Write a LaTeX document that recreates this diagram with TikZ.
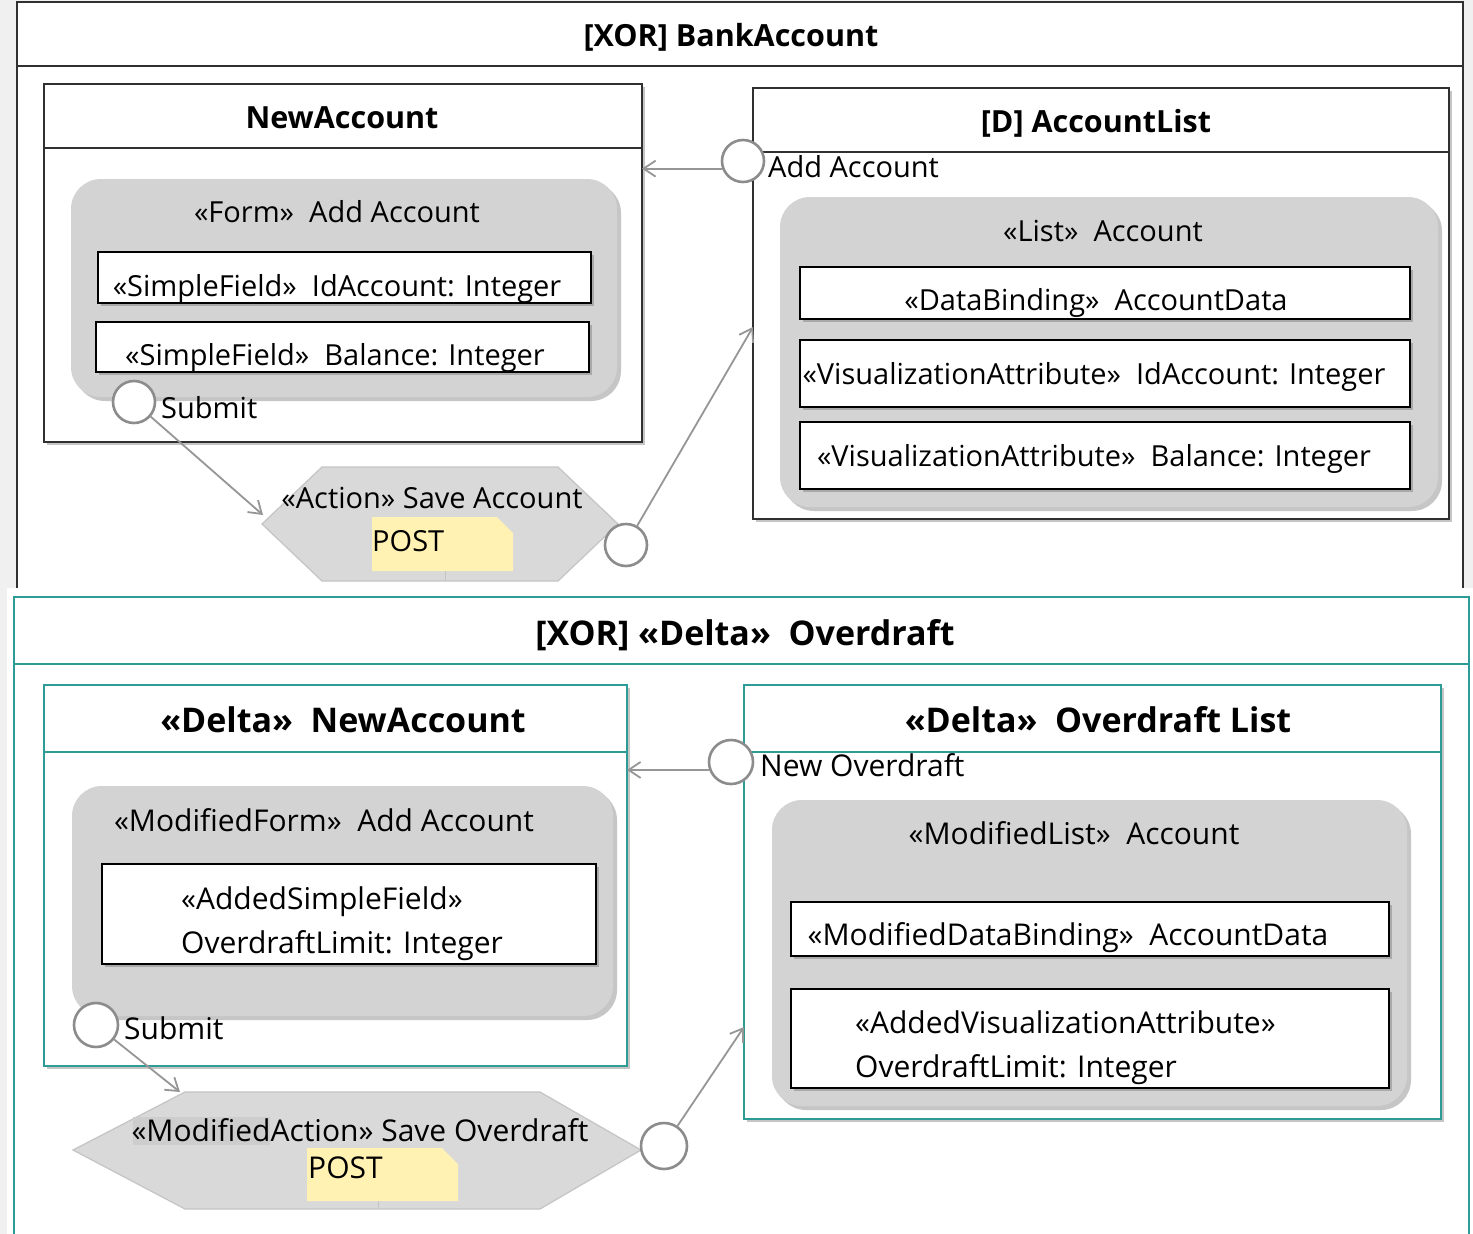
\documentclass[tikz,border=0pt]{standalone}
\usepackage{fontspec}
\setmainfont{Open Sans}
\usetikzlibrary{shadows,arrows.meta}
\definecolor{canvas}{HTML}{F0F0F0}
\definecolor{frame}{HTML}{303030}
\definecolor{deltateal}{RGB}{45,155,150}
\definecolor{pane}{HTML}{D3D3D3}
\definecolor{paneshade}{HTML}{C6C6C6}
\definecolor{portgray}{HTML}{8C8C8C}
\definecolor{flowgray}{HTML}{969696}
\definecolor{notefill}{HTML}{FFF2B3}
\definecolor{hexfill}{HTML}{D9D9D9}
\definecolor{hexline}{HTML}{C4C4C4}
\definecolor{stereomark}{HTML}{CDCDCD}
\tikzset{
  txt/.style={font=\fontsize{29}{34}\selectfont, inner sep=0pt, anchor=base},
  txtb/.style={txt, font=\fontsize{30}{35}\selectfont},
  ttl/.style={font=\fontsize{30.5}{36}\selectfont\bfseries, inner sep=0pt, anchor=base},
  ttlb/.style={ttl, font=\fontsize{34}{40}\selectfont\bfseries},
  area/.style={draw=frame, line width=1.6pt, fill=white, anchor=north west, inner sep=0pt, outer sep=0pt},
  deltaarea/.style={area, draw=deltateal, line width=1.8pt},
  shadowed/.style={drop shadow={shadow xshift=3pt, shadow yshift=-3pt, fill=black!45, opacity=0.5}},
  panebox/.style={fill=pane, rounded corners=30pt, anchor=north west, inner sep=0pt, outer sep=0pt,
    drop shadow={shadow xshift=4pt, shadow yshift=-4pt, fill=paneshade, opacity=1}},
  field/.style={draw=black, line width=1.6pt, fill=white, anchor=north west, inner sep=0pt, outer sep=0pt,
    drop shadow={shadow xshift=3pt, shadow yshift=-3pt, fill=black!50, opacity=0.5}},
  port/.style={circle, draw=portgray, line width=2.6pt, fill=white, inner sep=0pt, minimum size=42pt},
  flow/.style={draw=flowgray, line width=1.8pt, -{Straight Barb[length=12pt,width=16pt,line width=1.8pt]}},
  hexa/.style={fill=hexfill, draw=hexline, line width=1.2pt},
  postnote/.style={fill=notefill},
  notetail/.style={draw=hexline, line width=0.8pt},
}
\begin{document}
\begin{tikzpicture}[x=1pt,y=-1pt]
\useasboundingbox (0,0) rectangle (1473,1234);
\fill[canvas] (0,0) rectangle (1473,1234);

%% ---------------- [XOR] BankAccount ----------------
\node[area, minimum width=1446pt, minimum height=620pt] (bank) at (17,2) {};
\draw[frame, line width=1.6pt] (bank.west |- 0,66) -- (bank.east |- 0,66);
\node[ttl] (bankT) at (731,46) {[XOR] BankAccount};

% NewAccount container
\node[area, shadowed, minimum width=598pt, minimum height=358pt] (na) at (44,84) {};
\draw[frame, line width=1.6pt] (na.west |- 0,148) -- (na.east |- 0,148);
\node[ttl] (naT) at (342,128) {NewAccount};
\node[panebox, minimum width=546pt, minimum height=218pt] (form) at (71,179) {};
\node[txt] (formT) at (337,222) {«Form»\ \ Add Account};
\node[field, minimum width=493pt, minimum height=51pt] (sf1) at (98,252) {};
\node[txt] (sf1T) at (337,296) {«SimpleField»\ \ IdAccount: Integer};
\node[field, minimum width=493pt, minimum height=50pt] (sf2) at (96,322) {};
\node[txt] (sf2T) at (335,365) {«SimpleField»\ \ Balance: Integer};

% [D] AccountList container
\node[area, shadowed, minimum width=696pt, minimum height=431pt] (al) at (753,88) {};
\draw[frame, line width=1.6pt] (al.west |- 0,152) -- (al.east |- 0,152);
\node[ttl] (alT) at (1096,132) {[D] AccountList};
\node[panebox, minimum width=658pt, minimum height=310pt] (list) at (780,197) {};
\node[txt] (listT) at (1103,241) {«List»\ \ Account};
\node[field, minimum width=610pt, minimum height=52pt] (db) at (800,267) {};
\node[txt] (dbT) at (1096,310) {«DataBinding»\ \ AccountData};
\node[field, minimum width=610pt, minimum height=67pt] (va1) at (800,340) {};
\node[txt] (va1T) at (1094,384) {«VisualizationAttribute»\ \ IdAccount: Integer};
\node[field, minimum width=610pt, minimum height=67pt] (va2) at (800,422) {};
\node[txt] (va2T) at (1094,466) {«VisualizationAttribute»\ \ Balance: Integer};

% Save Account action
\path[hexa] (262,524) -- (322,467) -- (558,467) -- (618,524) -- (558,581) -- (322,581) -- cycle;
\fill[postnote] (372,517) -- (497,517) -- (513,533) -- (513,571) -- (372,571) -- cycle;
\draw[notetail] (445,571) -- (445,581);
\node[txt] (saveT) at (432,508) {«Action» Save Account};
\node[txt, anchor=base west] (post1) at (372,551) {POST};
\coordinate (saveIn) at (263,515);
\coordinate (alIn) at (753,327);

% ports and flows
\node[port] (pAdd) at (743,161) {};
\node[txt, anchor=base west] (pAddT) at (768,177) {Add Account};
\node[port] (pSub) at (134,402) {};
\node[txt, anchor=base west] (pSubT) at (161,418) {Submit};
\node[port] (pSave) at (626,545) {};
\draw[flow] (pAdd.200) -- (pAdd.200 -| na.east);
\draw[flow] (pSub) -- (saveIn);
\draw[flow] (pSave) -- (alIn);

%% ---------------- [XOR] «Delta» Overdraft ----------------
\fill[white] (7,588) rectangle (1473,1234);
\node[deltaarea, minimum width=1455pt, minimum height=700pt] (over) at (14,597) {};
\draw[deltateal, line width=1.8pt] (over.west |- 0,664) -- (over.east |- 0,664);
\node[ttlb] (overT) at (745,645) {[XOR] «Delta»\ \ Overdraft};

% «Delta» NewAccount container
\node[deltaarea, shadowed, minimum width=583pt, minimum height=381pt] (dna) at (44,685) {};
\draw[deltateal, line width=1.8pt] (dna.west |- 0,752) -- (dna.east |- 0,752);
\node[ttlb] (dnaT) at (343,732) {«Delta»\ \ NewAccount};
\node[panebox, minimum width=541pt, minimum height=230pt] (mform) at (72,786) {};
\node[txtb] (mformT) at (324,831) {«ModifiedForm»\ \ Add Account};
\node[field, minimum width=494pt, minimum height=100pt] (asf) at (102,864) {};
\node[txtb, anchor=base west] (asfT1) at (181,909) {«AddedSimpleField»};
\node[txtb, anchor=base west] (asfT2) at (181,953) {OverdraftLimit: Integer};

% «Delta» Overdraft List container
\node[deltaarea, shadowed, minimum width=697pt, minimum height=434pt] (dol) at (744,685) {};
\draw[deltateal, line width=1.8pt] (dol.west |- 0,752) -- (dol.east |- 0,752);
\node[ttlb] (dolT) at (1098,732) {«Delta»\ \ Overdraft List};
\node[panebox, minimum width=635pt, minimum height=306pt] (mlist) at (772,800) {};
\node[txtb] (mlistT) at (1074,844) {«ModifiedList»\ \ Account};
\node[field, minimum width=598pt, minimum height=54pt] (mdb) at (791,902) {};
\node[txtb] (mdbT) at (1068,945) {«ModifiedDataBinding»\ \ AccountData};
\node[field, minimum width=598pt, minimum height=99pt] (ava) at (791,989) {};
\node[txtb, anchor=base west] (avaT1) at (855,1033) {«AddedVisualizationAttribute»};
\node[txtb, anchor=base west] (avaT2) at (855,1077) {OverdraftLimit: Integer};

% Save Overdraft action
\path[hexa] (73,1150) -- (185,1092) -- (540,1092) -- (641,1150) -- (540,1209) -- (185,1209) -- cycle;
\fill[stereomark] (133,1117) rectangle (270,1145);
\fill[postnote] (307,1148) -- (442,1148) -- (458,1164) -- (458,1201) -- (307,1201) -- cycle;
\draw[notetail] (378,1201) -- (378,1209);
\node[txtb] (save2T) at (360,1141) {«ModifiedAction» Save Overdraft};
\node[txtb, anchor=base west] (post2) at (308,1178) {POST};
\coordinate (save2In) at (180,1092);
\coordinate (dolIn) at (744,1027);

% ports and flows
\node[port, minimum size=44pt] (pNew) at (731,762) {};
\node[txtb, anchor=base west] (pNewT) at (760,776) {New Overdraft};
\node[port, minimum size=44pt] (pSub2) at (96,1025) {};
\node[txtb, anchor=base west] (pSub2T) at (124,1039) {Submit};
\node[port, minimum size=46pt] (pSave2) at (664,1146) {};
\draw[flow] (pNew.200) -- (pNew.200 -| dna.east);
\draw[flow] (pSub2) -- (save2In);
\draw[flow] (pSave2) -- (dolIn);
\end{tikzpicture}
\end{document}
